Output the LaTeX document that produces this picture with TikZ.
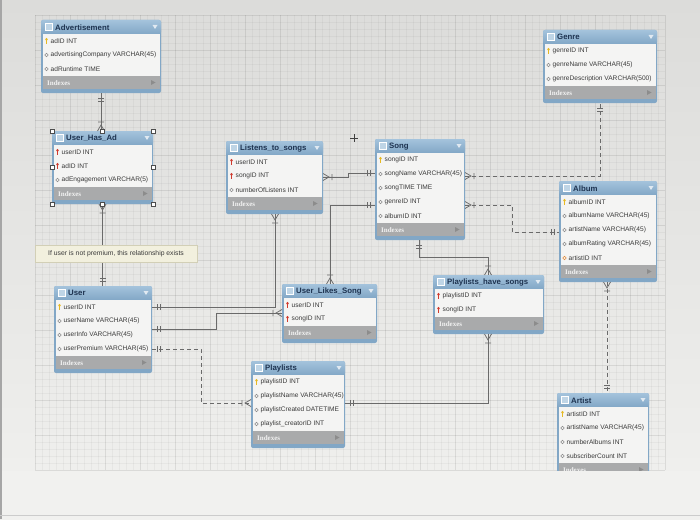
\documentclass[tikz,border=0pt]{standalone}
\usepackage{fontspec}
\setmainfont{Liberation Sans}
\newfontfamily\idxfont{Liberation Serif}
\usetikzlibrary{calc}
\definecolor{bgtop}{HTML}{DCDCDA}
\definecolor{bgbot}{HTML}{F1F1EF}
\definecolor{framec}{HTML}{82A7C6}
\definecolor{hdrtop}{HTML}{A4C3DC}
\definecolor{titlec}{HTML}{1E3350}
\definecolor{rowc}{HTML}{F4F4F3}
\definecolor{rowtext}{HTML}{3A3A3A}
\definecolor{bandc}{HTML}{A9AAAB}
\definecolor{linec}{HTML}{6A6A6A}
\definecolor{pkc}{HTML}{E6B923}
\definecolor{fkc}{HTML}{D03A2E}
\definecolor{nkc}{HTML}{8C8C8C}
\definecolor{fnc}{HTML}{E08A3A}
\definecolor{notec}{HTML}{F2F0DE}
\definecolor{notebd}{HTML}{D2CFB6}
\tikzset{
  conn/.style={draw=linec, line width=0.75pt},
  dconn/.style={conn, dash pattern=on 4pt off 3pt},
  ermark/.style={draw=linec, line width=0.75pt},
  gridminor/.style={draw=black, draw opacity=0.035, line width=0.3pt},
  gridmajor/.style={draw=black, draw opacity=0.05, line width=0.4pt},
  rowtxt/.style={anchor=west, inner sep=0pt, text=rowtext, font=\fontsize{6.6}{8}\selectfont},
  titletxt/.style={anchor=west, inner sep=0pt, text=titlec, font=\fontsize{7.8}{9}\selectfont\bfseries},
  idxtxt/.style={anchor=west, inner sep=0pt, text=white!90!gray, font=\idxfont\fontsize{7}{8}\selectfont\bfseries},
  handle/.style={fill=white, draw=black!70, line width=0.4pt},
  notebox/.style={fill=notec, draw=notebd, line width=0.5pt, minimum width=162pt, minimum height=17pt, inner sep=0pt, text=rowtext, font=\fontsize{6.8}{8}\selectfont}
}
\protected\def\PK{\fill[pkc] (0,-1.6) ellipse (1.3 and 1.6); \draw[pkc, line width=0.9pt] (0,-1)--(0,2.8);}
\protected\def\FK{\fill[fkc] (0,-1.6) ellipse (1.3 and 1.6); \draw[fkc, line width=0.9pt] (0,-1)--(0,2.8);}
\protected\def\NK{\draw[nkc, line width=0.5pt] (0,0) circle (1.8);}
\protected\def\FN{\draw[fnc, line width=0.6pt] (0,0) circle (1.8);}
% name, x, y, width, title, nrows, rows
\newcommand\ertab[7]{%
  \pgfmathsetmacro\tabh{14+14*#6+13+4}%
  \node[minimum width=#4pt, minimum height=\tabh pt, anchor=north west, inner sep=0pt, outer sep=0pt, fill=framec, rounded corners=2pt] (#1) at (#2,#3) {};
  \begin{scope}[shift={(#2,#3)}]
    \shade[top color=hdrtop, bottom color=framec, rounded corners=2pt] (0,0) rectangle (#4,14);
    \fill[rowc] (1.5,14) rectangle ({#4-1.5},{14+14*#6});
    \fill[bandc] (1.5,{14+14*#6}) rectangle ({#4-1.5},{14+14*#6+13});
    \filldraw[fill=hdrtop!70!white, draw=white, line width=0.6pt] (4,3.5) rectangle (11,10.5);
    \node[titletxt] at (14,7.3) {#5};
    \fill[white!75!framec] ({#4-8.5},5) -- ({#4-3.5},5) -- ({#4-6},9) -- cycle;
    \foreach \k/\t [count=\i] in {#7} {
      \pgfmathsetmacro\erY{14+14*(\i-1)+7}
      \begin{scope}[shift={(5.5,\erY)}]\k\end{scope}
      \node[rowtxt] at (9.5,\erY) {\t};
    }
    \node[idxtxt] at (6,{14+14*#6+6.8}) {Indexes};
    \fill[black!45] ({#4-10},{14+14*#6+4}) -- ({#4-10},{14+14*#6+9}) -- ({#4-5.5},{14+14*#6+6.5}) -- cycle;
  \end{scope}
}
\newcommand\oneone[2]{\begin{scope}[shift={#1},rotate=#2]\draw[ermark] (5,-3)--(5,3) (8,-3)--(8,3);\end{scope}}
\newcommand\manyone[2]{\begin{scope}[shift={#1},rotate=#2]\draw[ermark] (0,-3.5)--(6,0)--(0,3.5) (9,-3)--(9,3);\end{scope}}
\begin{document}
\begin{tikzpicture}[x=1pt,y=-1pt]
\useasboundingbox (0,0) rectangle (700,519);
% background
\shade[top color=bgtop, bottom color=bgbot] (0,0) rectangle (700,519);
\foreach \gx in {35,42,...,665} \draw[gridminor] (\gx,15) -- (\gx,470);
\foreach \gy in {15,22,...,470} \draw[gridminor] (35,\gy) -- (665,\gy);
\foreach \gx in {35,70,...,665} \draw[gridmajor] (\gx,15) -- (\gx,470);
\foreach \gy in {15,50,...,470} \draw[gridmajor] (35,\gy) -- (665,\gy);
\fill[black!35] (0,0) rectangle (2,519);
\fill[black!20] (0,515) rectangle (700,516);

% tables
\ertab{adv}{41}{20}{120}{Advertisement}{3}{\PK/adID INT,\NK/advertisingCompany VARCHAR(45),\NK/adRuntime TIME}
\ertab{uha}{52}{131}{101}{User\_Has\_Ad}{3}{\FK/userID INT,\FK/adID INT,\NK/adEngagement VARCHAR(5)}
\ertab{lts}{226}{141}{97}{Listens\_to\_songs}{3}{\FK/userID INT,\FK/songID INT,\NK/numberOfListens INT}
\ertab{song}{375}{139}{90}{Song}{5}{\PK/songID INT,\NK/songName VARCHAR(45),\NK/songTIME TIME,\NK/genreID INT,\NK/albumID INT}
\ertab{genre}{543}{30}{114}{Genre}{3}{\PK/genreID INT,\NK/genreName VARCHAR(45),\NK/genreDescription VARCHAR(500)}
\ertab{album}{559}{181}{98}{Album}{5}{\PK/albumID INT,\NK/albumName VARCHAR(45),\NK/artistName VARCHAR(45),\NK/albumRating VARCHAR(45),\FN/artistID INT}
\ertab{user}{54}{286}{98}{User}{4}{\PK/userID INT,\NK/userName VARCHAR(45),\NK/userInfo VARCHAR(45),\NK/userPremium VARCHAR(45)}
\ertab{uls}{282}{284}{95}{User\_Likes\_Song}{2}{\FK/userID INT,\FK/songID INT}
\ertab{pl}{251}{361}{94}{Playlists}{4}{\PK/playlistID INT,\NK/playlistName VARCHAR(45),\NK/playlistCreated DATETIME,\NK/playlist\_creatorID INT}
\ertab{phs}{433}{275}{111}{Playlists\_have\_songs}{2}{\FK/playlistID INT,\FK/songID INT}
\ertab{artist}{557}{393}{92}{Artist}{4}{\PK/artistID INT,\NK/artistName VARCHAR(45),\NK/numberAlbums INT,\NK/subscriberCount INT}

% connector end points
\coordinate (advB) at (adv.south);
\coordinate (uhaT) at (advB |- uha.north);
\coordinate (uhaB) at (uha.south);
\coordinate (userT) at (uhaB |- user.north);
\coordinate (u1) at ($(user.north east)+(0,21)$);
\coordinate (u2) at ($(user.north east)+(0,43)$);
\coordinate (u4) at ($(user.north east)+(0,63)$);
\coordinate (ltsB) at ($(lts.south west)+(49,0)$);
\coordinate (ltsE) at ($(lts.north east)+(0,36)$);
\coordinate (ulsW) at ($(uls.north west)+(0,29)$);
\coordinate (ulsT) at ($(uls.north west)+(48,0)$);
\coordinate (plW) at ($(pl.north west)+(0,42)$);
\coordinate (plE) at ($(pl.north east)+(0,42)$);
\coordinate (songW1) at ($(song.north west)+(0,34)$);
\coordinate (songW2) at ($(song.north west)+(0,66)$);
\coordinate (songE1) at ($(song.north east)+(0,37)$);
\coordinate (songE2) at ($(song.north east)+(0,66)$);
\coordinate (songB) at ($(song.south west)+(44,0)$);
\coordinate (phsT) at ($(phs.north west)+(55,0)$);
\coordinate (phsB) at ($(phs.south west)+(55,0)$);
\coordinate (genreB) at ($(genre.south west)+(57,0)$);
\coordinate (albumW) at ($(album.north west)+(0,51)$);
\coordinate (albumB) at ($(album.south west)+(48,0)$);
\coordinate (artistT) at (albumB |- artist.north);

% connectors
\draw[conn] (advB) -- (uhaT);
\draw[conn] (uhaB) -- (userT);
\draw[conn] (u1) -| (ltsB);
\draw[conn] (u2) -- ++(64,0) |- (ulsW);
\draw[dconn] (u4) -- ++(49,0) |- (plW);
\draw[conn] (ltsE) -- ++(25,0) |- (songW1);
\draw[conn] (songW2) -| (ulsT);
\draw[conn] (songB) -- ++(0,17) -| (phsT);
\draw[conn] (plE) -| (phsB);
\draw[dconn] (songE1) -| (genreB);
\draw[dconn] (songE2) -- ++(47,0) |- (albumW);
\draw[dconn] (albumB) -- (artistT);

% cardinality marks
\oneone{(advB)}{-90}
\manyone{(uhaT)}{90}
\manyone{(uhaB)}{-90}
\oneone{(userT)}{90}
\oneone{(u1)}{0}
\manyone{(ltsB)}{-90}
\oneone{(u2)}{0}
\manyone{(ulsW)}{180}
\oneone{(u4)}{0}
\manyone{(plW)}{180}
\manyone{(ltsE)}{0}
\oneone{(songW1)}{180}
\oneone{(songW2)}{180}
\manyone{(ulsT)}{90}
\oneone{(songB)}{-90}
\manyone{(phsT)}{90}
\oneone{(plE)}{0}
\manyone{(phsB)}{-90}
\manyone{(songE1)}{0}
\oneone{(genreB)}{-90}
\manyone{(songE2)}{0}
\oneone{(albumW)}{180}
\manyone{(albumB)}{-90}
\oneone{(artistT)}{90}

% note
\node[notebox] (note) at (116,253.5) {If user is not premium, this relationship exists};

% selection handles
\foreach \a in {north west,north,north east,west,east,south west,south,south east}
  \draw[handle] ($(uha.\a)+(-2,-2)$) rectangle ++(4,4);

% move cursor
\draw[black!75, line width=0.6pt] (350,138) -- (358,138) (354,134) -- (354,142);

% bottom of photo, below the screen area
\fill[bgbot] (2,471) rectangle (700,515);
\end{tikzpicture}
\end{document}
